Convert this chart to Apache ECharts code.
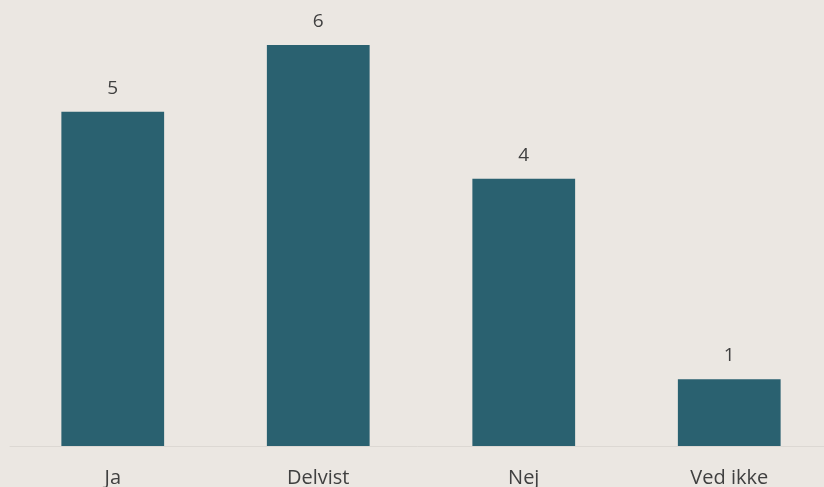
<!DOCTYPE html>
<html>
<head>
<meta charset="utf-8">
<script src="https://cdn.jsdelivr.net/npm/echarts@6/dist/echarts.min.js"></script>
<style>
  html, body { margin: 0; padding: 0; background: #ebe7e2; }
  #chart { width: 824px; height: 487px; }
</style>
</head>
<body>
<div id="chart"></div>
<script>
var categories = ['Ja', 'Delvist', 'Nej', 'Ved ikke'];
var answers = [5, 6, 4, 1];

var chart = echarts.init(document.getElementById('chart'));

var options = {
    backgroundColor: '#ebe7e2',
    animation: false,
    grid: {
        left: 10,
        right: -8,
        top: 45,
        bottom: 41,
        containLabel: false,
        outerBoundsMode: 'none'
    },
    xAxis: {
        type: 'category',
        data: categories,
        axisLine: { show: true, lineStyle: { color: '#dcd8d3', width: 1 } },
        axisTick: { show: false },
        axisLabel: {
            color: '#404040',
            fontFamily: 'Open Sans',
            fontSize: 20,
            margin: 22
        }
    },
    yAxis: {
        type: 'value',
        min: 0,
        max: 6,
        show: false,
        splitLine: { show: false }
    },
    series: [
        {
            name: 'Svar',
            type: 'bar',
            data: answers,
            barWidth: '50%',
            itemStyle: { color: '#2a6170' },
            label: {
                show: true,
                position: 'top',
                distance: 14,
                color: '#404040',
                fontFamily: 'Open Sans',
                fontSize: 19
            }
        }
    ]
};

chart.setOption(options);
</script>
</body>
</html>
